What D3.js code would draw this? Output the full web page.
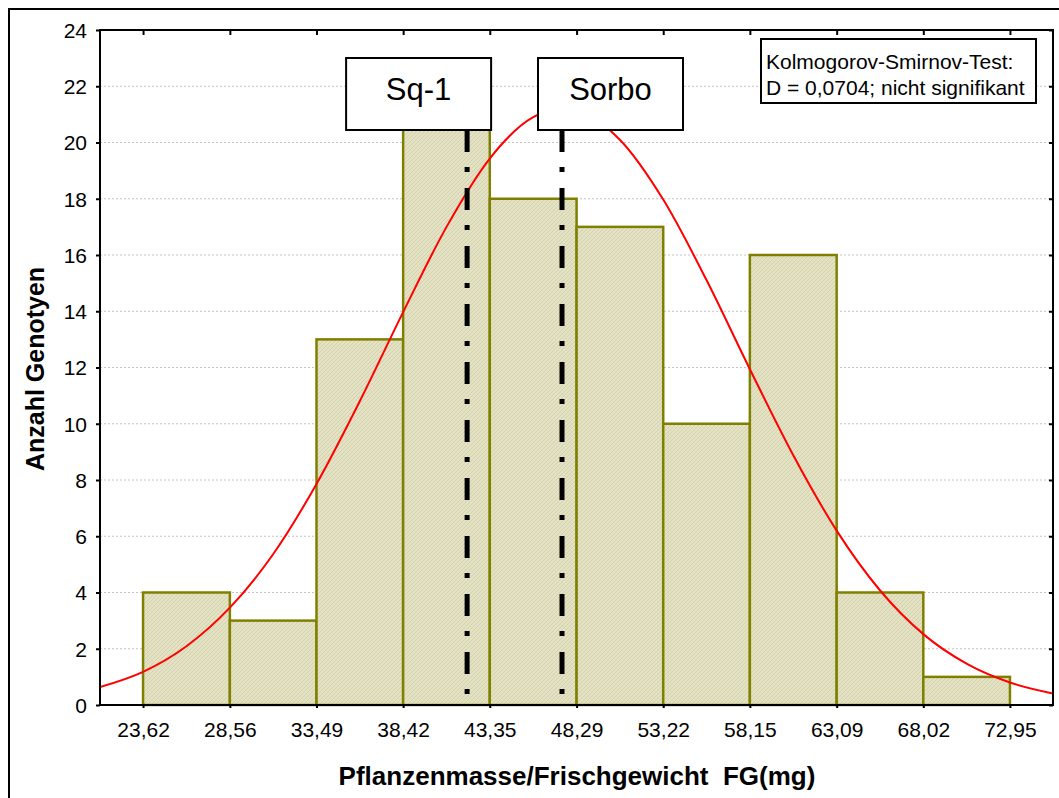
<!DOCTYPE html>
<html><head><meta charset="utf-8">
<script src="https://cdn.jsdelivr.net/npm/d3@7"></script>
<style>
html,body{margin:0;padding:0;background:#fff;}
svg{display:block;font-family:"Liberation Sans",Arial,sans-serif;}
</style></head>
<body><svg id="chart" width="1059" height="798"></svg>
<script>
// ---- data ----
const binEdges = [23.62, 28.56, 33.49, 38.42, 43.35, 48.29, 53.22, 58.15, 63.09, 68.02, 72.95];
const tickLabels = ["23,62","28,56","33,49","38,42","43,35","48,29","53,22","58,15","63,09","68,02","72,95"];
const counts = [4, 3, 13, 21, 18, 17, 10, 16, 4, 1];
const yTicks = [0,2,4,6,8,10,12,14,16,18,20,22,24];
// fitted normal curve
const curveX = [21.17, 23.62, 26.09, 28.56, 31.02, 33.49, 35.96, 38.42, 40.89, 43.35, 45.82, 47.5, 48.29, 50.75, 53.22, 55.69, 58.15, 60.62, 63.09, 65.55, 68.02, 70.48, 72.95, 75.40];
const curveY = [0.64, 1.18, 2.09, 3.46, 5.36, 7.86, 10.81, 13.97, 17.0, 19.43, 20.9, 21.2, 21.13, 20.10, 17.97, 15.10, 11.94, 8.88, 6.20, 4.08, 2.52, 1.47, 0.80, 0.41];
const markers = [{name:"Sq-1", x:42.06, side:"left"}, {name:"Sorbo", x:47.46, side:"right"}];
const ksLines = ["Kolmogorov-Smirnov-Test:", "D = 0,0704; nicht signifikant"];
const xTitle = "Pflanzenmasse/Frischgewicht  FG(mg)";
const yTitle = "Anzahl Genotyen";

// ---- layout ----
const L = 100, R = 1053, T = 30, B = 705;
const svg = d3.select("#chart");
const x = d3.scaleLinear().domain([21.17, 75.40]).range([L, R]);
const y = d3.scaleLinear().domain([0, 24]).range([B, T]);

// pattern fill
const defs = svg.append("defs");
const pat = defs.append("pattern").attr("id","hatch").attr("patternUnits","userSpaceOnUse").attr("width",4).attr("height",4);
pat.append("rect").attr("width",4).attr("height",4).attr("fill","#e6e4c6");
pat.append("path").attr("d","M0,4 L4,0 M-1,1 L1,-1 M3,5 L5,3").attr("stroke","#d4d2ad").attr("stroke-width",1);
pat.append("path").attr("d","M0,0 L4,4").attr("stroke","#dcdab9").attr("stroke-width",0.7);
defs.append("clipPath").attr("id","clip").append("rect").attr("x",L).attr("y",T).attr("width",R-L).attr("height",B-T);

// outer frame
svg.append("rect").attr("x",9).attr("y",9).attr("width",1200).attr("height",1000)
  .attr("fill","none").attr("stroke","#000").attr("stroke-width",2);

// gridlines
svg.append("g").selectAll("line").data(yTicks.filter(d=>d>0 && d<24)).join("line")
  .attr("x1",L).attr("x2",R).attr("y1",d=>y(d)).attr("y2",d=>y(d))
  .attr("stroke","#c4c4c4").attr("stroke-width",1).attr("stroke-dasharray","2,2");

// bars
const bins = counts.map((c,i)=>({x0:binEdges[i], x1:binEdges[i+1], c}));
svg.append("g").selectAll("rect").data(bins).join("rect")
  .attr("x",d=>x(d.x0)).attr("width",d=>x(d.x1)-x(d.x0))
  .attr("y",d=>y(d.c)).attr("height",d=>y(0)-y(d.c))
  .attr("fill","url(#hatch)").attr("stroke","#808000").attr("stroke-width",2.5);

// normal curve
const pts = curveX.map((v,i)=>[v,curveY[i]]);
svg.append("path").datum(pts).attr("clip-path","url(#clip)")
  .attr("d", d3.line().x(d=>x(d[0])).y(d=>y(d[1])).curve(d3.curveMonotoneX))
  .attr("fill","none").attr("stroke","#ff0000").attr("stroke-width",2);

// marker lines
svg.append("g").selectAll("line").data(markers).join("line")
  .attr("x1",d=>x(d.x)).attr("x2",d=>x(d.x)).attr("y1",130).attr("y2",y(0))
  .attr("stroke","#000").attr("stroke-width",5).attr("stroke-dasharray","22,15,5,16");

// marker label boxes
const mg = svg.append("g").selectAll("g").data(markers).join("g")
  .attr("transform",d=>`translate(${d.side==="left" ? x(d.x)-121 : x(d.x)-24},58)`);
mg.append("rect").attr("width",145).attr("height",72).attr("fill","#fff").attr("stroke","#000").attr("stroke-width",2);
mg.append("text").attr("x",72.5).attr("y",42).attr("text-anchor","middle").attr("font-size",31).text(d=>d.name);

// plot frame
svg.append("rect").attr("x",L).attr("y",T).attr("width",R-L).attr("height",B-T)
  .attr("fill","none").attr("stroke","#000").attr("stroke-width",2);

// axes
const yAxL = svg.append("g").attr("transform",`translate(${L},0)`)
  .call(d3.axisLeft(y).tickValues(yTicks).tickSize(4).tickPadding(9).tickFormat(d3.format("d")));
const yAxR = svg.append("g").attr("transform",`translate(${R},0)`)
  .call(d3.axisLeft(y).tickValues(yTicks).tickSize(4).tickFormat(""));
const xAxB = svg.append("g").attr("transform",`translate(0,${B})`)
  .call(d3.axisBottom(x).tickValues(binEdges).tickSize(3).tickPadding(14).tickFormat((d,i)=>tickLabels[i]));
const xAxT = svg.append("g").attr("transform",`translate(0,${T})`)
  .call(d3.axisBottom(x).tickValues(binEdges).tickSize(5).tickFormat(""));
[yAxL,yAxR,xAxB,xAxT].forEach(g=>{
  g.select(".domain").remove();
  g.selectAll(".tick line").attr("stroke","#000").attr("stroke-width",2);
  g.selectAll("text").attr("font-size",21).attr("fill","#000").attr("font-family","'Liberation Sans',Arial,sans-serif");
});
yAxL.selectAll("text").attr("dy","0.35em");

// KS box
const kg = svg.append("g").attr("transform","translate(761,39)");
kg.append("rect").attr("width",275).attr("height",64).attr("fill","#fff").attr("stroke","#000").attr("stroke-width",2);
kg.selectAll("text").data(ksLines).join("text")
  .attr("x",5).attr("y",(d,i)=>30+i*26).attr("font-size",21).text(d=>d);

// axis titles
svg.append("text").attr("x",577).attr("y",785).attr("text-anchor","middle").style("white-space","pre")
  .attr("font-size",26).attr("font-weight","bold").text(xTitle);
svg.append("text").attr("transform","translate(44,369) rotate(-90)").attr("text-anchor","middle")
  .attr("font-size",25).attr("font-weight","bold").text(yTitle);
</script></body></html>
